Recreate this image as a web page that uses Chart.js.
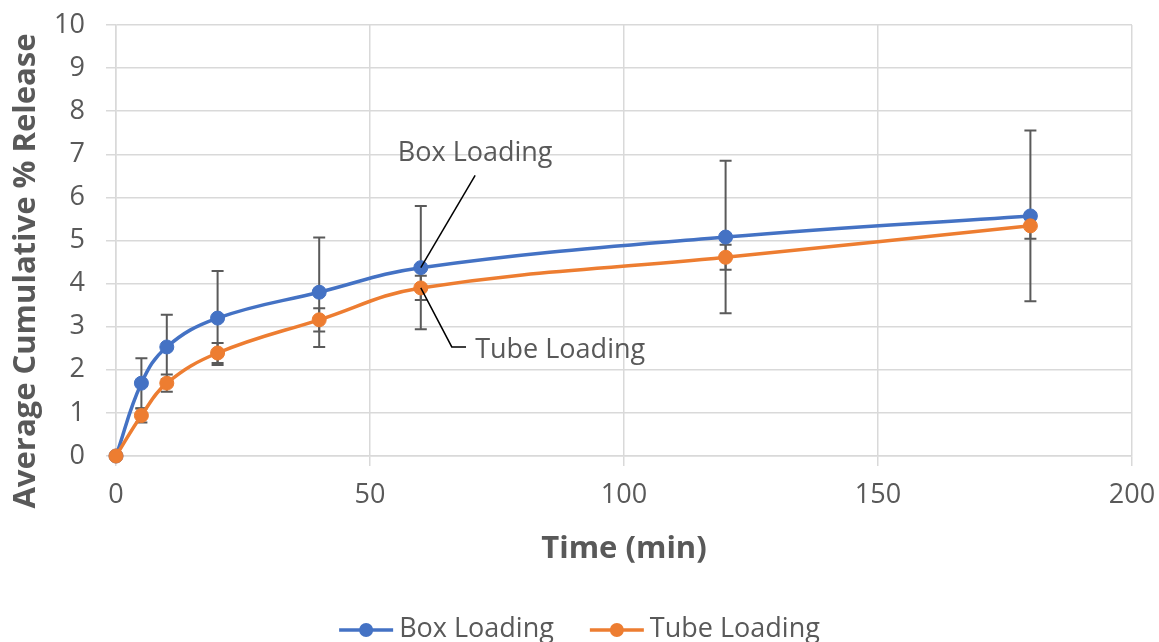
<!DOCTYPE html>
<html>
<head>
<meta charset="utf-8">
<script src="https://cdn.jsdelivr.net/npm/chart.js@4/dist/chart.umd.min.js"></script>
<style>
  html, body { margin: 0; padding: 0; background: #ffffff; }
  #wrap { width: 1159px; height: 642px; position: relative; }
</style>
</head>
<body>
<div id="wrap"><canvas id="c"></canvas></div>
<script>
// Sampling times (min) and average cumulative release (%) with error half-widths
const timesMin    = [0, 5, 10, 20, 40, 60, 120, 180];
const boxLoading  = [0, 1.69, 2.53, 3.20, 3.80, 4.37, 5.08, 5.57];
const boxError    = [0, 0.58, 0.75, 1.09, 1.27, 1.43, 1.77, 1.98];
const tubeLoading = [0, 0.94, 1.69, 2.39, 3.16, 3.90, 4.61, 5.34];
const tubeError   = [0, 0.16, 0.20, 0.23, 0.27, 0.28, 0.29, 0.30];
const xTickValues = [0, 50, 100, 150, 200];
const yTickValues = [0, 1, 2, 3, 4, 5, 6, 7, 8, 9, 10];
const seriesNames = ['Box Loading', 'Tube Loading'];

// Callout labels placed in data units, pointing at the 60 min samples
const calloutIndex = 5;
const boxCallout  = { textX: 70.7, textY: 7.02, lineX: 70.7, lineY: 6.51 };
const tubeCallout = { textX: 70.7, textY: 2.46, lineY: 2.53, elbowX: 66.1, stubX: 68.9 };

const BLUE = '#4472C4';
const ORANGE = '#ED7D31';
const TEXT = '#595959';
const GRID = '#D9D9D9';
const FONT = "'Open Sans', 'Liberation Sans', sans-serif";

const toXY = (ys) => timesMin.map((t, i) => ({ x: t, y: ys[i] }));

// Vertical error bars with caps, drawn beneath the series
const errorBars = {
  id: 'errorBars',
  beforeDatasetsDraw(chart) {
    const { ctx, scales: { x, y } } = chart;
    const sets = [[boxLoading, boxError], [tubeLoading, tubeError]];
    ctx.save();
    ctx.strokeStyle = '#5A5A5A';
    ctx.lineWidth = 2;
    const cap = 6;
    sets.forEach(([vals, errs]) => {
      vals.forEach((v, i) => {
        if (!errs[i]) return;
        const px = x.getPixelForValue(timesMin[i]);
        const top = y.getPixelForValue(v + errs[i]);
        const bot = y.getPixelForValue(v - errs[i]);
        ctx.beginPath();
        ctx.moveTo(px, top); ctx.lineTo(px, bot);
        ctx.moveTo(px - cap, top); ctx.lineTo(px + cap, top);
        ctx.moveTo(px - cap, bot); ctx.lineTo(px + cap, bot);
        ctx.stroke();
      });
    });
    ctx.restore();
  }
};

// Callouts, vertical axis title and the legend row
const extras = {
  id: 'extras',
  afterDraw(chart) {
    const { ctx, scales: { x, y } } = chart;
    ctx.save();

    // callouts
    ctx.strokeStyle = '#000000';
    ctx.lineWidth = 1.5;
    const bx = x.getPixelForValue(timesMin[calloutIndex]);
    const by = y.getPixelForValue(boxLoading[calloutIndex]);
    ctx.beginPath();
    ctx.moveTo(x.getPixelForValue(boxCallout.lineX), y.getPixelForValue(boxCallout.lineY));
    ctx.lineTo(bx, by);
    ctx.stroke();
    const ty = y.getPixelForValue(tubeLoading[calloutIndex]);
    const ly2 = y.getPixelForValue(tubeCallout.lineY);
    ctx.beginPath();
    ctx.moveTo(bx, ty);
    ctx.lineTo(x.getPixelForValue(tubeCallout.elbowX), ly2);
    ctx.lineTo(x.getPixelForValue(tubeCallout.stubX), ly2);
    ctx.stroke();

    ctx.fillStyle = TEXT;
    ctx.font = `27px ${FONT}`;
    ctx.textBaseline = 'middle';
    ctx.textAlign = 'center';
    ctx.fillText(seriesNames[0], x.getPixelForValue(boxCallout.textX), y.getPixelForValue(boxCallout.textY));
    ctx.textAlign = 'left';
    ctx.fillText(seriesNames[1], x.getPixelForValue(tubeCallout.textX), y.getPixelForValue(tubeCallout.textY));

    // vertical axis title
    ctx.save();
    ctx.font = `bold 31px ${FONT}`;
    ctx.textAlign = 'center';
    ctx.textBaseline = 'middle';
    ctx.translate(26, 271);
    ctx.rotate(-Math.PI / 2);
    ctx.fillText('Average Cumulative % Release', 0, 0);
    ctx.restore();

    // legend
    ctx.font = `27px ${FONT}`;
    const lineLen = 54, gapText = 6, gapItem = 36;
    const colors = [BLUE, ORANGE];
    const widths = seriesNames.map(n => ctx.measureText(n).width);
    const total = widths.reduce((a, w) => a + lineLen + gapText + w, 0) + gapItem;
    let lx = chart.width / 2 - total / 2;
    const ly = 630;
    seriesNames.forEach((n, i) => {
      ctx.strokeStyle = colors[i];
      ctx.lineWidth = 3.5;
      ctx.beginPath();
      ctx.moveTo(lx, ly); ctx.lineTo(lx + lineLen, ly);
      ctx.stroke();
      ctx.fillStyle = colors[i];
      ctx.beginPath();
      ctx.arc(lx + lineLen / 2, ly, 7, 0, Math.PI * 2);
      ctx.fill();
      ctx.fillStyle = TEXT;
      ctx.textAlign = 'left';
      ctx.textBaseline = 'middle';
      ctx.fillText(n, lx + lineLen + gapText, ly - 1);
      lx += lineLen + gapText + widths[i] + gapItem;
    });
    ctx.restore();
  }
};

const lineSet = (label, data, color, order) => ({
  label,
  data: toXY(data),
  borderColor: color,
  backgroundColor: color,
  borderWidth: 3.5,
  pointRadius: 7,
  pointHoverRadius: 7,
  pointBorderWidth: 1,
  pointBorderColor: color,
  pointBackgroundColor: color,
  tension: 0.4,
  fill: false,
  clip: false,
  order
});

new Chart(document.getElementById('c'), {
  type: 'line',
  data: {
    datasets: [
      lineSet(seriesNames[0], boxLoading, BLUE, 1),
      lineSet(seriesNames[1], tubeLoading, ORANGE, 0)
    ]
  },
  options: {
    responsive: true,
    maintainAspectRatio: false,
    animation: false,
    events: [],
    layout: { padding: { top: 25, right: 27, bottom: 74, left: 0 } },
    plugins: {
      legend: { display: false },
      tooltip: { enabled: false }
    },
    scales: {
      x: {
        type: 'linear',
        min: 0,
        max: 200,
        afterBuildTicks: (s) => { s.ticks = xTickValues.map(v => ({ value: v })); },
        afterFit: (s) => { s.height = 112; s.paddingLeft = 0; s.paddingRight = 0; },
        ticks: { color: TEXT, font: { family: FONT, size: 27 }, padding: 13, maxRotation: 0 },
        grid: { color: GRID, lineWidth: 1.5, tickLength: 10, tickColor: GRID },
        border: { color: GRID, width: 1.5 },
        title: {
          display: true,
          text: 'Time (min)',
          color: TEXT,
          font: { family: FONT, size: 31, weight: 'bold' },
          padding: { top: 0, bottom: 0 }
        }
      },
      y: {
        min: 0,
        max: 10,
        afterBuildTicks: (s) => { s.ticks = yTickValues.map(v => ({ value: v })); },
        afterFit: (s) => { s.width = 116; s.paddingTop = 0; s.paddingBottom = 0; },
        ticks: { color: TEXT, font: { family: FONT, size: 27 }, padding: 21 },
        grid: { color: GRID, lineWidth: 1.5, tickLength: 10, tickColor: GRID },
        border: { color: GRID, width: 1.5 }
      }
    }
  },
  plugins: [errorBars, extras]
});
</script>
</body>
</html>
